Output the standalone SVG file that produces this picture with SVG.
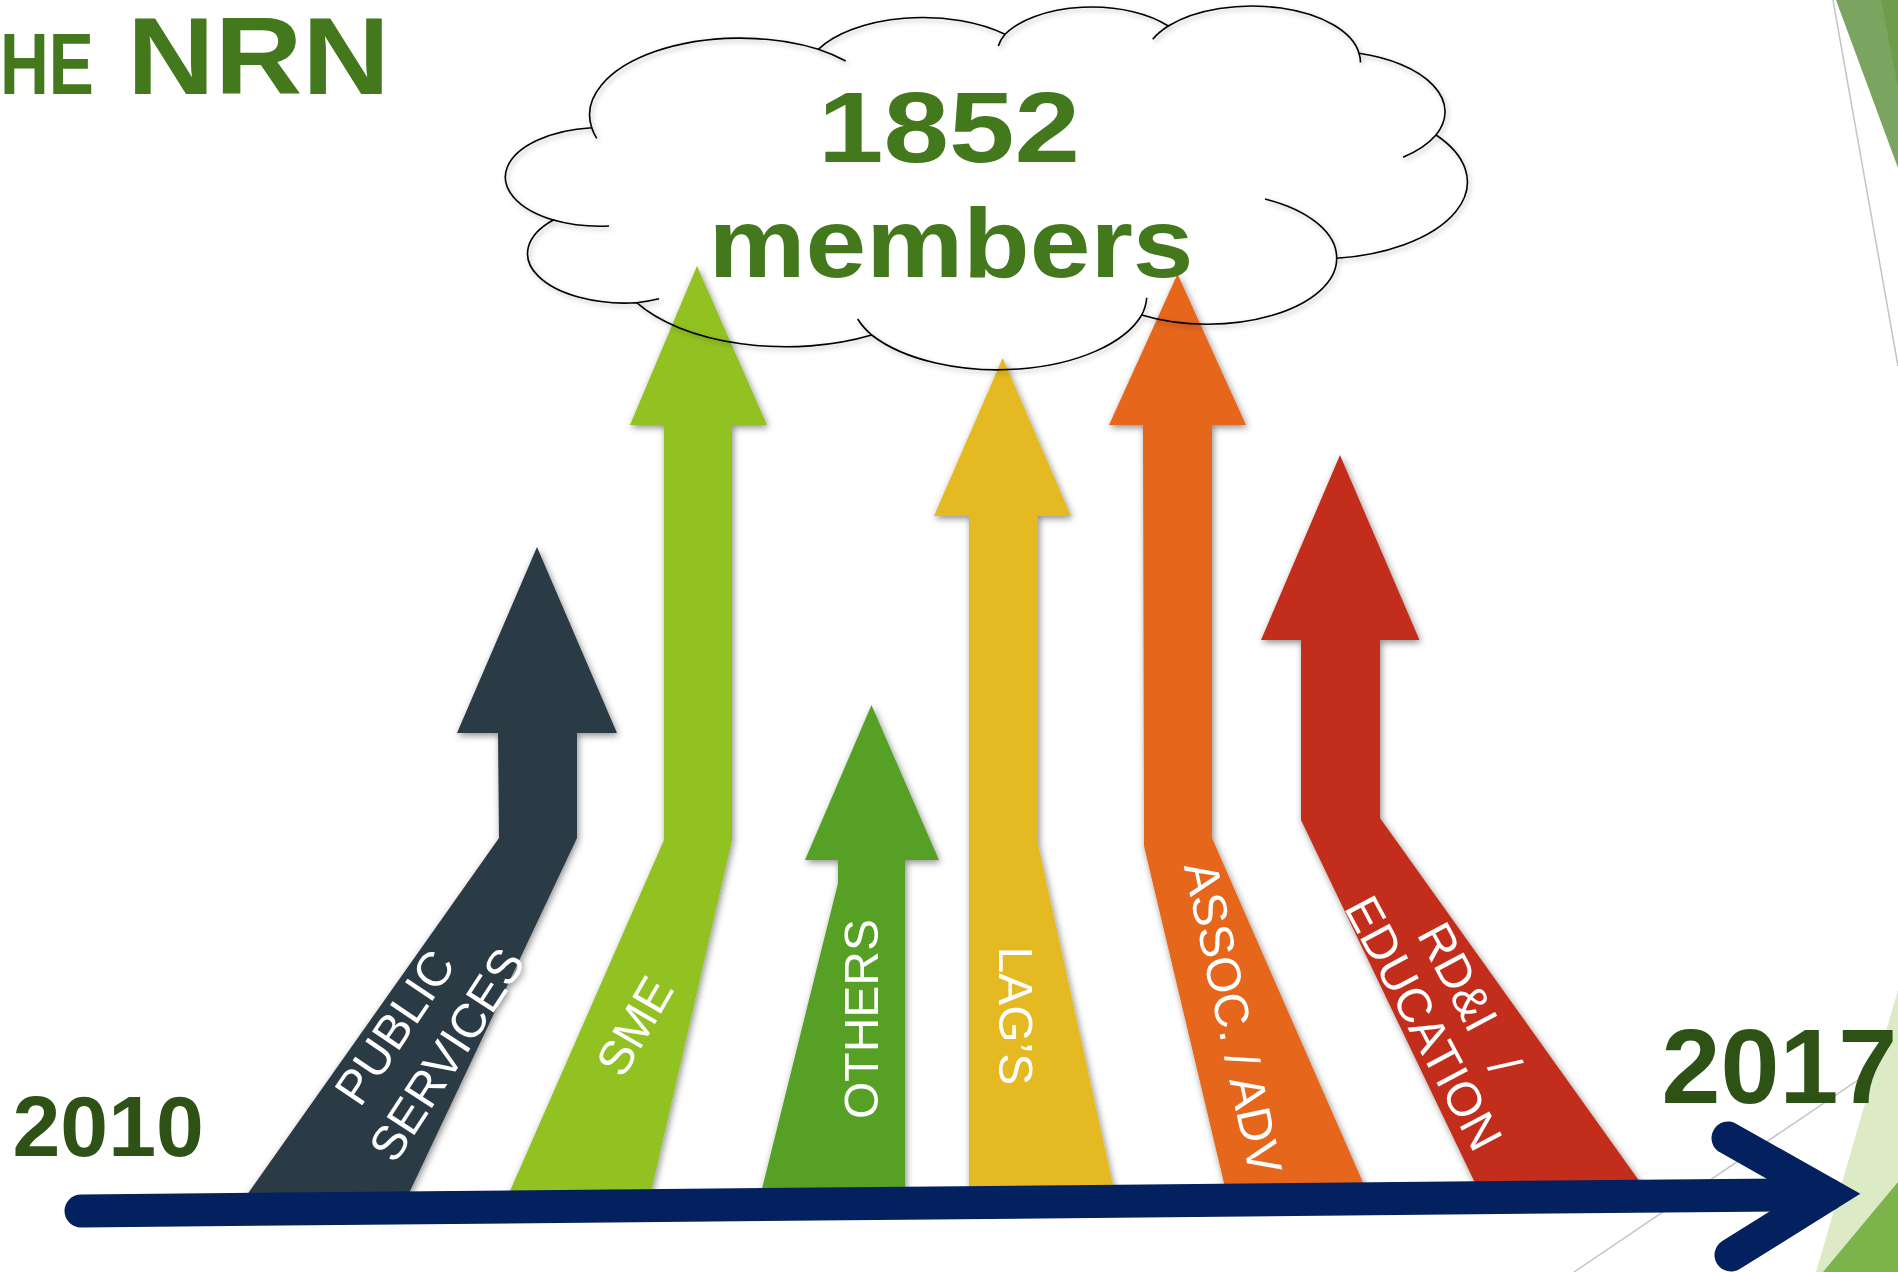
<svg xmlns="http://www.w3.org/2000/svg" width="1898" height="1272" viewBox="0 0 1898 1272">
<style>
  .lbl { font-family: "Liberation Sans", Arial, sans-serif; font-size: 48px; fill: #ffffff; text-anchor: middle; }
  .bold { font-family: "Liberation Sans", Arial, sans-serif; font-weight: bold; }
  .deco-line { stroke: #c4c4c4; stroke-width: 1.5; fill: none; }
  .cloud { fill: none; stroke: #000000; stroke-width: 1.6; }
</style>
<defs>
  <filter id="sh" x="-25%" y="-10%" width="150%" height="125%">
    <feDropShadow dx="1.5" dy="2.5" stdDeviation="3.5" flood-color="#000000" flood-opacity="0.45"/>
  </filter>
  <filter id="csh" x="-5%" y="-10%" width="110%" height="125%">
    <feDropShadow dx="2" dy="2.5" stdDeviation="2.5" flood-color="#000000" flood-opacity="0.3"/>
  </filter>
</defs>
<rect x="0" y="0" width="1898" height="1272" fill="#ffffff"/>

<g id="decoration">
  <polygon points="1836,0 1898,0 1898,168" fill="#7aa45f"/>
  <polygon points="1881,0 1898,0 1898,87" fill="#6e9c4a"/>
  <line class="deco-line" x1="1833" y1="0" x2="1898" y2="366"/>
  <line class="deco-line" x1="1574" y1="1272" x2="1898" y2="1053"/>
  <polygon points="1898,990 1816,1272 1898,1272" fill="#dcebc5"/>
  <polygon points="1898,1182 1823,1272 1898,1272" fill="#7ab44b"/>
</g>

<g id="title">
  <text class="bold" x="0" y="93.5" font-size="88" fill="#43781c" textLength="94" lengthAdjust="spacingAndGlyphs">HE</text>
  <text class="bold" x="127" y="93.5" font-size="110" fill="#43781c" textLength="263" lengthAdjust="spacingAndGlyphs">NRN</text>
</g>

<g id="arrow-public-services" filter="url(#sh)">
  <polygon points="237,1209 499,838 498,733 457,733 537,547 617,733 577,733 577,838 402,1208" fill="#2c3b44"/>
  <text class="lbl" transform="translate(394.2,1027) rotate(-56)" y="17.2">PUBLIC</text>
  <text class="lbl" transform="translate(446.2,1054.2) rotate(-57)" y="17.2">SERVICES</text>
</g>

<g id="arrow-sme" filter="url(#sh)">
  <polygon points="503,1207 664,840 664,425 630,425 697,266 767,425 732,425 732,840 648,1205" fill="#92c124"/>
  <text class="lbl" transform="translate(634.2,1025.8) rotate(-60)" y="17.2">SME</text>
</g>

<g id="arrow-others" filter="url(#sh)">
  <polygon points="758,1205 838,883 838,860 805,860 871.5,705 939,860 905,860 905,1204" fill="#56a025"/>
  <text class="lbl" transform="translate(860.8,1019) rotate(-90)" y="17.2">OTHERS</text>
</g>

<g id="arrow-lags" filter="url(#sh)">
  <polygon points="969,1203 969,516 934,516 1002.7,358 1071,516 1038,516 1038,844 1116.5,1201" fill="#e5b920"/>
  <text class="lbl" transform="translate(1016.7,1015.8) rotate(90)" y="17.2">LAG’S</text>
</g>

<g id="arrow-assoc-adv" filter="url(#sh)">
  <polygon points="1228,1200 1144,846 1143,425 1109,425 1177.5,274 1246,425 1212,425 1212,838 1370,1198.5" fill="#e6661a"/>
  <text class="lbl" transform="translate(1233.3,1017.8) rotate(78)" y="16.8" font-size="47">ASSOC. / ADV</text>
</g>

<g id="arrow-rdi-education" filter="url(#sh)">
  <polygon points="1482,1197.5 1301,820 1301,640 1261,640 1340,455 1419.5,640 1380,640 1380,818 1650,1196" fill="#c32f1b"/>
  <text class="lbl" transform="translate(1470,998.4) rotate(62)" y="17.2">RD&amp;I <tspan dx="23">/</tspan></text>
  <text class="lbl" transform="translate(1424.3,1022.7) rotate(62)" y="17.2">EDUCATION</text>
</g>

<g id="connectors">
  <g id="timeline" stroke="#03215f" stroke-width="33" fill="none">
    <line x1="81" y1="1211" x2="1828" y2="1194.5" stroke-linecap="round"/>
    <polyline points="1728,1138 1828,1194.5 1731,1255" stroke-linecap="round" stroke-linejoin="miter" stroke-miterlimit="4"/>
  </g>
</g>

<g id="cloud">
  <g filter="url(#csh)">
    <path class="cloud" d="M 591.7,127.7 A 150.5,76.8 0 0 1 818.3,49.3 A 118.9,60.7 0 0 1 1005,34.3 A 97.3,49.7 0 0 1 1168.3,26 A 108.3,55.1 0 0 1 1359,53.3 A 118.9,60.8 0 0 1 1436,135 A 151,77 0 0 1 1336.7,258.3 A 129,65.7 0 0 1 1141.7,315 A 150.5,77 0 0 1 871.7,335 A 172.1,88.1 0 0 1 636.7,302.7 A 97.2,49.5 0 0 1 553.3,220 A 96.9,49.7 0 0 1 591.7,127.7 Z"/>
    <path class="cloud" d="M 596.7,138.3 A 150.5,76.8 0 0 1 591.7,127.7 M 818.3,49.3 A 150.5,76.8 0 0 1 845.7,61 M 998.3,46 A 97.3,49.7 0 0 1 1005,34.3 M 1152.7,39.3 A 108.3,55.1 0 0 1 1168.3,26 M 1359,53.3 A 108.3,55.1 0 0 1 1360.5,62.5 M 1436,135 A 118.9,60.8 0 0 1 1403,157.3 M 1265,199 A 129,65.7 0 0 1 1336.7,258.3 M 1146.7,297.7 A 150.5,77 0 0 1 1141.7,315 M 871.7,335 A 150.5,77 0 0 1 857.7,319 M 659,298.8 A 97.2,49.5 0 0 1 636.7,302.7 M 609,226 A 96.9,49.7 0 0 1 553.3,220"/>
  </g>
  <text class="bold" x="949" y="162" font-size="100" fill="#43781c" text-anchor="middle" textLength="262" lengthAdjust="spacingAndGlyphs">1852</text>
  <text class="bold" x="951" y="276.5" font-size="98" fill="#43781c" text-anchor="middle" textLength="485" lengthAdjust="spacingAndGlyphs">members</text>
</g>

<g id="year-2010">
  <text class="bold" x="12.5" y="1155.5" font-size="86" fill="#2e5215">2010</text>
</g>
<g id="year-2017">
  <text class="bold" x="1661.5" y="1102.5" font-size="106" fill="#2e5215">2017</text>
</g>
</svg>
